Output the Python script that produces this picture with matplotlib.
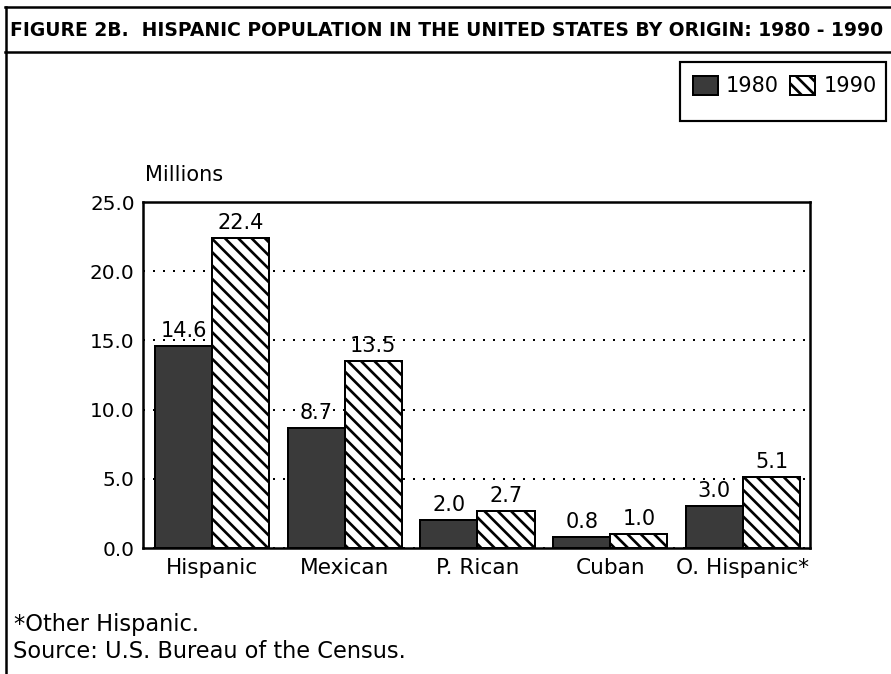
import matplotlib
matplotlib.use('Agg')
import matplotlib.pyplot as plt
from matplotlib.lines import Line2D
from matplotlib.patches import Rectangle
import numpy as np

categories = ['Hispanic', 'Mexican', 'P. Rican', 'Cuban', 'O. Hispanic*']
pop_1980 = [14.6, 8.7, 2.0, 0.8, 3.0]
pop_1990 = [22.4, 13.5, 2.7, 1.0, 5.1]
series_labels = ['1980', '1990']
yticks = [0, 5, 10, 15, 20, 25]
title = 'FIGURE 2B.  HISPANIC POPULATION IN THE UNITED STATES BY ORIGIN: 1980 - 1990'
ylabel = 'Millions'
footnotes = ['*Other Hispanic.', 'Source: U.S. Bureau of the Census.']

W, H, DPI = 891, 674, 120
plt.rcParams['font.family'] = ['DejaVu Sans']
plt.rcParams['hatch.linewidth'] = 1.6
fig = plt.figure(figsize=(W / DPI, H / DPI), dpi=DPI)
fig.patch.set_facecolor('white')


def fx(px):
    return px / W


def fy(py):
    return 1 - py / H


ax = fig.add_axes([fx(143), fy(548), fx(810) - fx(143), fy(202) - fy(548)])
x = np.arange(len(categories))
bw = 0.43
b1 = ax.bar(x - bw, pop_1980, width=bw, align='edge', color='#3a3a3a',
            edgecolor='black', linewidth=1.2, zorder=3, label=series_labels[0])
b2 = ax.bar(x, pop_1990, width=bw, align='edge', color='white',
            edgecolor='black', hatch='\\\\\\', linewidth=1.2, zorder=3,
            label=series_labels[1])

ax.bar_label(b1, fmt='%.1f', padding=3, fontsize=12.5)
ax.bar_label(b2, fmt='%.1f', padding=3, fontsize=12.5)

ax.set_xlim(-0.52, 4.505)
ax.set_ylim(0, 25)
ax.set_yticks(yticks)
ax.set_yticklabels([f'{v:.1f}' for v in yticks])
ax.set_xticks(x)
ax.set_xticklabels(categories)
ax.tick_params(axis='y', length=0, pad=5, labelsize=12)
ax.tick_params(axis='x', length=0, pad=6, labelsize=13)
ax.yaxis.grid(True, linestyle=(0, (1, 4)), linewidth=1.2, color='black')
ax.set_axisbelow(True)
for s in ax.spines.values():
    s.set_linewidth(1.5)
    s.set_color('black')

# Legend: content without frame, frame drawn as a separate box
leg = ax.legend(handles=[b1, b2], labels=series_labels, ncol=2, loc='center left',
                bbox_to_anchor=(fx(693), fy(86)), bbox_transform=fig.transFigure,
                frameon=False, borderpad=0, handlelength=1.2, handleheight=1.05,
                handletextpad=0.38, columnspacing=0.55, fontsize=12.5,
                borderaxespad=0)
fig.add_artist(Rectangle((fx(680), fy(121)), fx(886) - fx(680), fy(62) - fy(121),
                         transform=fig.transFigure, fill=False, edgecolor='black',
                         linewidth=1.3))

# Title fitted to width
t = fig.text(fx(10), fy(30), title, fontweight='bold', va='center', ha='left',
             fontsize=11)
fig.canvas.draw()
w = t.get_window_extent().width
t.set_fontsize(11 * 873 / w)

fig.text(fx(145), fy(175), ylabel, fontsize=12.5, va='center', ha='left')
fig.text(fx(14), fy(624), footnotes[0], fontsize=13.5, va='center', ha='left')
fig.text(fx(13), fy(652), footnotes[1], fontsize=13.5, va='center', ha='left')

for (x0, y0, x1, y1) in [(5, 7, 891, 7), (5, 52, 891, 52), (6, 7, 6, 674)]:
    fig.add_artist(Line2D([fx(x0), fx(x1)], [fy(y0), fy(y1)], lw=1.5,
                          color='black', transform=fig.transFigure))

fig.savefig('out.png', dpi=DPI)
